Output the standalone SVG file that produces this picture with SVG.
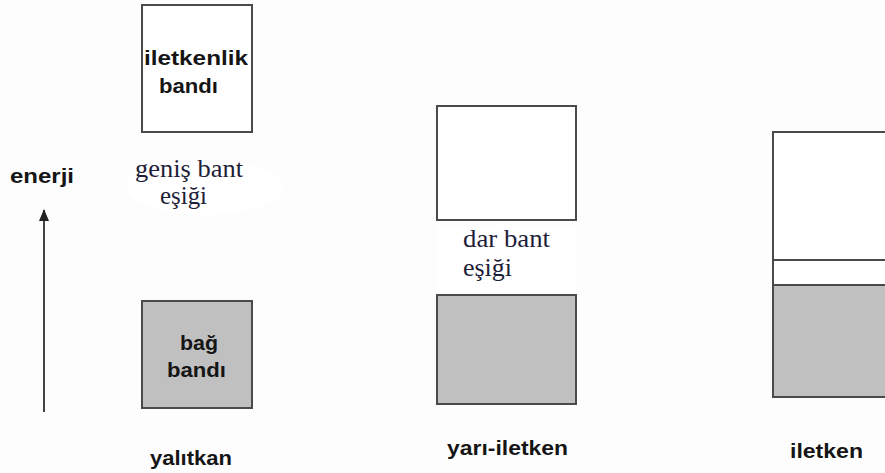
<svg xmlns="http://www.w3.org/2000/svg" width="885" height="473" viewBox="0 0 885 473">
  <style>
    .band { stroke: #4a4a4a; stroke-width: 2; }
    .empty { fill: #ffffff; }
    .full { fill: #c0c0c0; }
    .lbl { font-family: "Liberation Sans", Arial, sans-serif; font-weight: bold; font-size: 21px; fill: #151515; }
    .gap { font-family: "Liberation Serif", "Times New Roman", serif; font-size: 26px; fill: #1e1e38; }
  </style>
  <defs>
    <marker id="head" viewBox="0 0 12 10" refX="11" refY="5" markerWidth="12" markerHeight="10" markerUnits="userSpaceOnUse" orient="auto">
      <path d="M0 0 L12 5 L0 10 Z" fill="#222"/>
    </marker>
  </defs>

  <rect x="0" y="0" width="885" height="473" fill="#fdfdfd"/>

  <!-- energy axis -->
  <g id="connectors">
    <line x1="44" y1="412" x2="44" y2="210" stroke="#444" stroke-width="2" marker-end="url(#head)"/>
  </g>
  <g id="energy-label">
    <text class="lbl" x="10" y="183" textLength="64" lengthAdjust="spacingAndGlyphs">enerji</text>
  </g>

  <!-- insulator -->
  <g id="insulator-conduction">
    <rect class="band empty" x="142" y="5" width="110" height="127"/>
    <text class="lbl" x="144" y="65" textLength="104" lengthAdjust="spacingAndGlyphs">iletkenlik</text>
    <text class="lbl" x="159" y="93" textLength="59" lengthAdjust="spacingAndGlyphs">bandı</text>
  </g>
  <g id="insulator-gap">
    <ellipse cx="205" cy="187" rx="78" ry="28" fill="#ffffff"/>
    <text class="gap" x="135" y="177" textLength="108" lengthAdjust="spacingAndGlyphs">geniş bant</text>
    <text class="gap" x="160" y="204" textLength="47" lengthAdjust="spacingAndGlyphs">eşiği</text>
  </g>
  <g id="insulator-valence">
    <rect class="band full" x="142" y="301" width="110" height="107"/>
    <text class="lbl" x="180" y="350" textLength="38" lengthAdjust="spacingAndGlyphs">bağ</text>
    <text class="lbl" x="167" y="377" textLength="59" lengthAdjust="spacingAndGlyphs">bandı</text>
  </g>
  <g id="insulator-title">
    <text class="lbl" x="150" y="465" textLength="82" lengthAdjust="spacingAndGlyphs">yalıtkan</text>
  </g>

  <!-- semiconductor -->
  <g id="semiconductor-conduction">
    <rect class="band empty" x="437" y="106" width="139" height="114"/>
  </g>
  <g id="semiconductor-gap">
    <rect x="437" y="226" width="139" height="64" fill="#ffffff"/>
    <text class="gap" x="463" y="247" textLength="87" lengthAdjust="spacingAndGlyphs">dar bant</text>
    <text class="gap" x="463" y="276" textLength="49" lengthAdjust="spacingAndGlyphs">eşiği</text>
  </g>
  <g id="semiconductor-valence">
    <rect class="band full" x="437" y="295" width="139" height="109"/>
  </g>
  <g id="semiconductor-title">
    <text class="lbl" x="447" y="455" textLength="121" lengthAdjust="spacingAndGlyphs">yarı-iletken</text>
  </g>

  <!-- conductor (overlapping bands) -->
  <g id="conductor-bands">
    <rect class="band empty" x="773" y="132" width="120" height="153"/>
    <line class="band" x1="773" y1="260" x2="885" y2="260"/>
    <rect class="band full" x="773" y="285" width="120" height="112"/>
  </g>
  <g id="conductor-title">
    <text class="lbl" x="790" y="458" textLength="73" lengthAdjust="spacingAndGlyphs">iletken</text>
  </g>
</svg>
